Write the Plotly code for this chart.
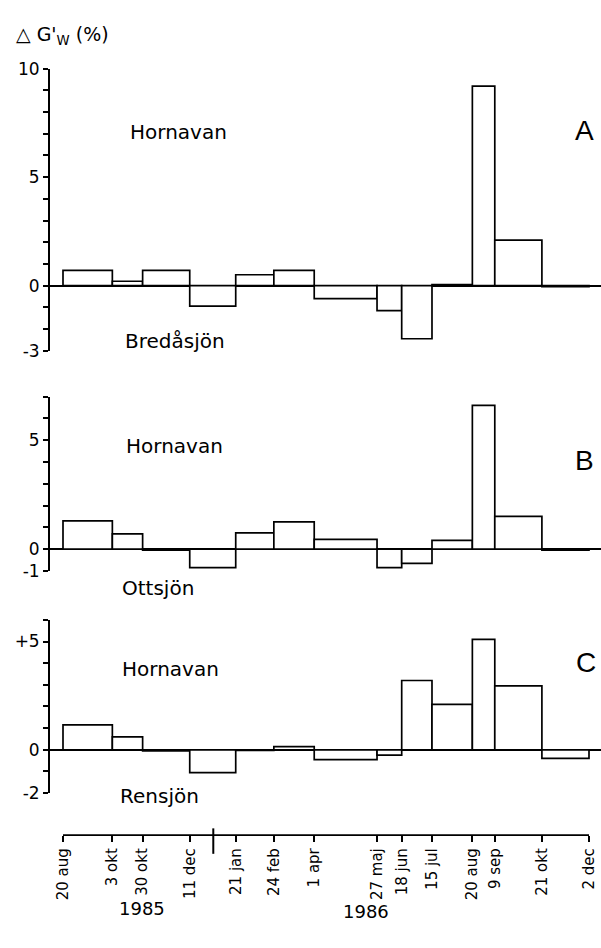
import datetime as dt
import plotly.graph_objects as go

# ---------------- data ----------------
bin_edges = ["1985-08-20", "1985-10-03", "1985-10-30", "1985-12-11", "1986-01-21",
             "1986-02-24", "1986-04-01", "1986-05-27", "1986-06-18", "1986-07-15",
             "1986-08-20", "1986-09-09", "1986-10-21", "1986-12-02"]
tick_labels = ["20 aug", "3 okt", "30 okt", "11 dec", "21 jan", "24 feb", "1 apr",
               "27 maj", "18 jun", "15 jul", "20 aug", "9 sep", "21 okt", "2 dec"]

panel_A = [0.7, 0.2, 0.7, -0.95, 0.5, 0.7, -0.6, -1.15, -2.45, 0.05, 9.2, 2.1, -0.05]   # Hornavan - Bredåsjön
panel_B = [1.3, 0.7, -0.05, -0.85, 0.75, 1.25, 0.45, -0.85, -0.65, 0.4, 6.6, 1.5, -0.05]  # Hornavan - Ottsjön
panel_C = [1.15, 0.6, -0.05, -1.05, -0.03, 0.15, -0.45, -0.25, 3.2, 2.1, 5.1, 2.95, -0.4]  # Hornavan - Rensjön

A_ticks = [-3, 0, 5, 10]
A_ticktext = ["-3", "0", "5", "10"]
B_ticks = [-1, 0, 5]
B_ticktext = ["-1", "0", "5"]
C_ticks = [-2, 0, 5]
C_ticktext = ["-2", "0", "+5"]

# ---------------- layout helpers ----------------
W, H = 601, 948
FONT = "DejaVu Sans"


def px_x(x):
    return x / W


def px_y(y):
    return 1 - y / H


edges = [dt.datetime.strptime(e, "%Y-%m-%d") for e in bin_edges]
centers = [edges[i] + (edges[i + 1] - edges[i]) / 2 for i in range(len(edges) - 1)]
widths = [(edges[i + 1] - edges[i]).total_seconds() * 1000 for i in range(len(edges) - 1)]

# date scale: first edge at 63 px, last at 589 px
x0_px, x1_px = 63, 589
days_total = (edges[-1] - edges[0]).days
s = (x1_px - x0_px) / days_total
dom_left, dom_right = 50, 601
range_left = edges[0] - dt.timedelta(days=(x0_px - dom_left) / s)
range_right = edges[0] + dt.timedelta(days=(dom_right - x0_px) / s)

fig = go.Figure()
bar_style = dict(color="white", line=dict(color="black", width=1.7))
for vals, ya in [(panel_A, "y"), (panel_B, "y2"), (panel_C, "y3")]:
    fig.add_trace(go.Bar(x=centers, y=vals, width=widths, marker=bar_style,
                         xaxis="x", yaxis=ya, showlegend=False, hoverinfo="skip"))

yax_common = dict(anchor="x", showline=True, linecolor="black", linewidth=1.8,
                  ticks="outside", ticklen=5, tickwidth=1.5, tickcolor="black",
                  minor=dict(tickmode="linear", tick0=0, dtick=1, ticks="outside",
                             ticklen=5, tickwidth=1.5, tickcolor="black", showgrid=False),
                  zeroline=True, zerolinecolor="black", zerolinewidth=1.5,
                  showgrid=False, tickmode="array",
                  tickfont=dict(family=FONT, size=17, color="black"))

fig.update_layout(
    width=W, height=H, autosize=False,
    margin=dict(l=0, r=0, t=0, b=0),
    paper_bgcolor="white", plot_bgcolor="white",
    barmode="overlay",
    xaxis=dict(domain=[px_x(dom_left), px_x(dom_right)], range=[range_left, range_right],
               type="date", anchor="free", position=px_y(843),
               showline=False, showgrid=False, zeroline=False,
               tickmode="array", tickvals=edges, ticktext=tick_labels, tickangle=-90,
               ticks="outside", ticklen=6, tickwidth=1.5, tickcolor="black",
               tickfont=dict(family=FONT, size=15, color="black")),
    yaxis=dict(domain=[px_y(348), px_y(60)], range=[-3, 10],
               tickvals=A_ticks, ticktext=A_ticktext, **yax_common),
    yaxis2=dict(domain=[px_y(573), px_y(395)], range=[-1, 7],
                tickvals=B_ticks, ticktext=B_ticktext, **yax_common),
    yaxis3=dict(domain=[px_y(800), px_y(623)], range=[-2, 6],
                tickvals=C_ticks, ticktext=C_ticktext, **yax_common),
)

# bottom time axis line and year break mark
fig.add_shape(type="line", xref="x", yref="paper", x0=edges[0], x1=edges[-1],
              y0=px_y(843), y1=px_y(843), line=dict(color="black", width=1.8))
fig.add_shape(type="line", xref="x", yref="paper", x0=dt.datetime(1986, 1, 1), x1=dt.datetime(1986, 1, 1),
              y0=px_y(836), y1=px_y(862), line=dict(color="black", width=2))


def ann(text, x, y, size, family=FONT, xanchor="center"):
    fig.add_annotation(text=text, x=px_x(x), y=px_y(y), xref="paper", yref="paper",
                       showarrow=False, xanchor=xanchor, yanchor="middle",
                       font=dict(family=family, size=size, color="black"))


ann("△ G'<sub>W</sub> (%)", 14, 26, 19, xanchor="left")
ann("Hornavan", 178, 125, 20)
ann("Bredåsjön", 175, 338, 20)
ann("A", 584, 123, 28, family="Liberation Sans")
ann("Hornavan", 174, 445, 20)
ann("Ottsjön", 158, 590, 20)
ann("B", 584, 460, 28, family="Liberation Sans")
ann("Hornavan", 170, 673, 20)
ann("Rensjön", 159, 803, 20)
ann("C", 586, 667, 28, family="Liberation Sans")
ann("1985", 142, 918, 18)
ann("1986", 366, 921, 18)

fig.write_html("out.html")
